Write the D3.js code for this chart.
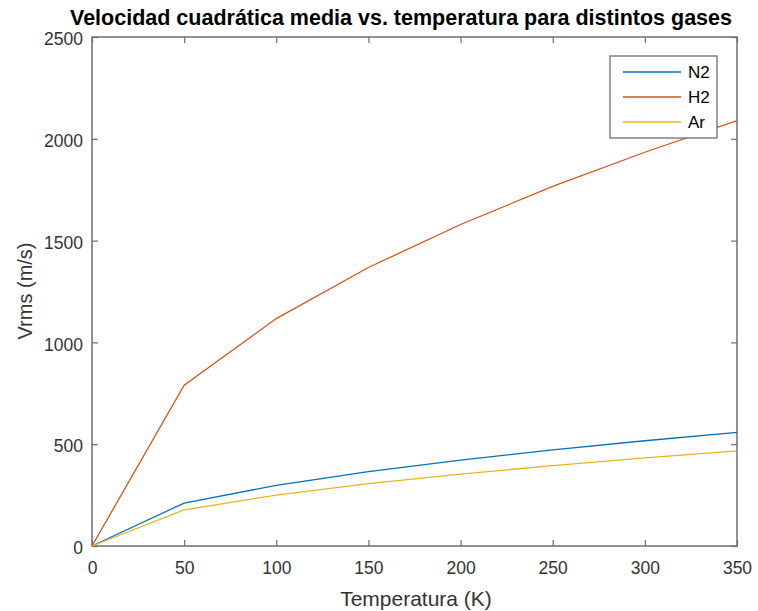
<!DOCTYPE html>
<html>
<head>
<meta charset="utf-8">
<script src="https://cdn.jsdelivr.net/npm/d3@7"></script>
<style>
  body { margin: 0; background: #fff; }
  text { font-family: "Liberation Sans", Arial, sans-serif; }
</style>
</head>
<body>
<script>
var temps = [0, 50, 100, 150, 200, 250, 300, 350];
var n2 = [0, 211, 298, 365, 422, 472, 517, 558];
var h2 = [0, 790, 1117, 1368, 1579, 1766, 1934, 2089];
var ar = [0, 177, 250, 306, 353, 395, 433, 467];
var seriesNames = ['N2', 'H2', 'Ar'];
var seriesColors = ['#0072BD', '#D95319', '#EDB120'];
var xTicks = [0, 50, 100, 150, 200, 250, 300, 350];
var yTicks = [0, 500, 1000, 1500, 2000, 2500];

var width = 758,
    height = 611,
    plot = { left: 92, right: 737, top: 37, bottom: 546 };

var svg = d3.select('body')
    .append('svg')
    .attr('width', width)
    .attr('height', height)

var xScale = d3.scaleLinear()
    .domain([0, 350])
    .range([plot.left, plot.right])
var yScale = d3.scaleLinear()
    .domain([0, 2500])
    .range([plot.bottom, plot.top])

var axisColor = '#6e6e6e';
var labelColor = '#333';

// box
svg.append('rect')
    .attr('x', plot.left).attr('y', plot.top)
    .attr('width', plot.right - plot.left)
    .attr('height', plot.bottom - plot.top)
    .attr('fill', 'none')
    .attr('stroke', axisColor)
    .attr('stroke-width', 1.5)

function styleAxis(sel) {
    sel.select('.domain').remove()
    sel.selectAll('.tick line').attr('stroke', axisColor).attr('stroke-width', 1.2)
    sel.selectAll('.tick text').attr('fill', labelColor).style('font-size', '17.5px')
}

svg.append('g')
    .attr('transform', `translate(0, ${plot.bottom})`)
    .call(d3.axisBottom(xScale).tickValues(xTicks).tickSize(-6).tickPadding(16).tickFormat(d3.format('d')))
    .call(styleAxis)
svg.append('g')
    .attr('transform', `translate(0, ${plot.top})`)
    .call(d3.axisTop(xScale).tickValues(xTicks).tickSize(-6).tickFormat(''))
    .call(styleAxis)
svg.append('g')
    .attr('transform', `translate(${plot.left}, 0)`)
    .call(d3.axisLeft(yScale).tickValues(yTicks).tickSize(-6).tickPadding(9).tickFormat(d3.format('d')))
    .call(styleAxis)
    .call(g => g.selectAll('.tick text').attr('y', 2))
svg.append('g')
    .attr('transform', `translate(${plot.right}, 0)`)
    .call(d3.axisRight(yScale).tickValues(yTicks).tickSize(-6).tickFormat(''))
    .call(styleAxis)

var line = d3.line()
    .x((d, i) => xScale(temps[i]))
    .y(d => yScale(d))

var allSeries = [n2, h2, ar];
allSeries.forEach((s, i) => {
    svg.append('path')
        .attr('d', line(s))
        .attr('fill', 'none')
        .attr('stroke', seriesColors[i])
        .attr('stroke-width', 1.3)
})

// title and labels
svg.append('text')
    .attr('x', 401).attr('y', 25)
    .attr('text-anchor', 'middle')
    .style('font-size', '21.5px')
    .style('font-weight', 'bold')
    .attr('fill', '#000')
    .text('Velocidad cuadrática media vs. temperatura para distintos gases')

svg.append('text')
    .attr('x', 416).attr('y', 606)
    .attr('text-anchor', 'middle')
    .style('font-size', '21px')
    .attr('fill', labelColor)
    .text('Temperatura (K)')

svg.append('text')
    .attr('transform', `translate(32, 291) rotate(-90)`)
    .attr('text-anchor', 'middle')
    .style('font-size', '20px')
    .attr('fill', labelColor)
    .text('Vrms (m/s)')

// legend
var legend = svg.append('g')
legend.append('rect')
    .attr('x', 610).attr('y', 56)
    .attr('width', 107).attr('height', 82)
    .attr('fill', '#fff')
    .attr('stroke', axisColor)
    .attr('stroke-width', 1.3)
seriesNames.forEach((name, i) => {
    var y = 72 + i * 25;
    legend.append('line')
        .attr('x1', 623).attr('x2', 681)
        .attr('y1', y).attr('y2', y)
        .attr('stroke', seriesColors[i])
        .attr('stroke-width', 1.3)
    legend.append('text')
        .attr('x', 688).attr('y', y + 6)
        .style('font-size', '17px')
        .attr('fill', '#000')
        .text(name)
})
</script>
</body>
</html>
